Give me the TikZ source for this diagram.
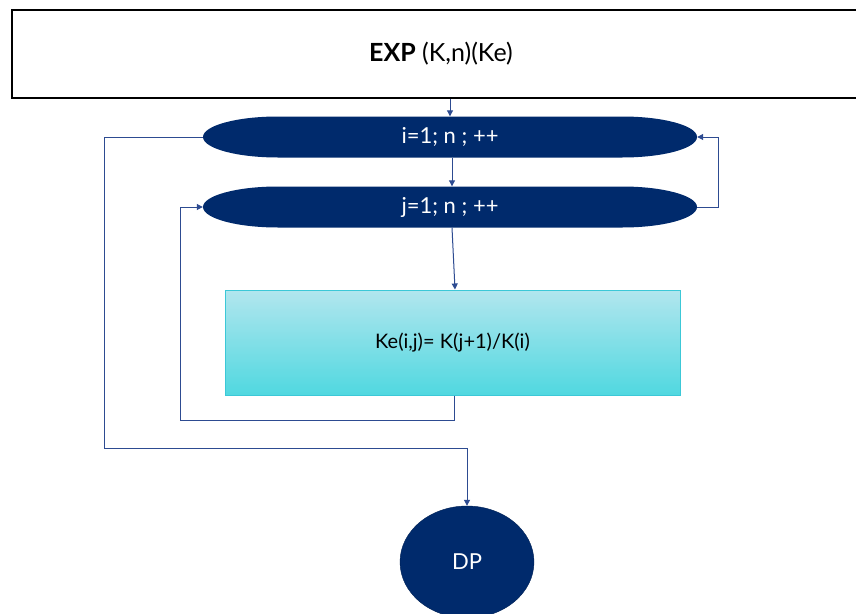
\documentclass[tikz,border=0pt]{standalone}
\usepackage{fontspec}
\setmainfont{Lato}
\usetikzlibrary{shapes.geometric,arrows.meta}
\definecolor{navy}{RGB}{0,42,108}
\definecolor{lineblue}{RGB}{45,75,145}
\definecolor{cyantop}{RGB}{178,230,238}
\definecolor{cyanbot}{RGB}{80,216,224}
\definecolor{cyanedge}{RGB}{60,200,215}
\tikzset{
  loopell/.style={rectangle, minimum width=494pt, minimum height=41pt, inner sep=0pt, text=white, font=\fontsize{22}{24}\selectfont,
    path picture={\fill[navy] ([xshift=75pt]path picture bounding box.north west) -- ([xshift=-75pt]path picture bounding box.north east) arc[start angle=90, end angle=-90, x radius=75pt, y radius=20.5pt] -- ([xshift=75pt]path picture bounding box.south west) arc[start angle=270, end angle=90, x radius=75pt, y radius=20.5pt] -- cycle;}},
  conn/.style={draw=lineblue, line width=1pt},
  arr/.style={conn, -{Triangle[length=6pt,width=6pt]}},
}
\begin{document}
\begin{tikzpicture}[x=1pt,y=-1pt]
\useasboundingbox (0,0) rectangle (856,613);
\fill[white] (0,0) rectangle (856,613);
\node[draw=black, line width=1.6pt, fill=white, minimum width=858pt, minimum height=88pt, inner sep=0pt, font=\fontsize{25}{27}\selectfont] (top) at (441,54) {\textbf{EXP} (K,n)(Ke)};
\node[loopell] (e1) at (450,137) {i=1; n ; ++};
\node[loopell] (e2) at (450,207) {j=1; n ; ++};
\node[draw=cyanedge, line width=1pt, top color=cyantop, bottom color=cyanbot, minimum width=455pt, minimum height=105pt, inner sep=0pt, font=\fontsize{20}{24}\selectfont] (box) at (452.5,342.5) {Ke(i,j)= K(j+1)/K(i)};
\node[ellipse, fill=navy, draw=navy!80!black, minimum width=134pt, minimum height=112pt, inner sep=0pt, text=white, font=\fontsize{22}{24}\selectfont] (dp) at (467,562) {DP};
\draw[arr] (top.south -| e1.north) -- (e1.north);
\draw[arr] ([xshift=2pt]e1.south) -- ([xshift=2pt]e2.north);
\draw[arr] ([xshift=2pt]e2.south) -- ([xshift=2.5pt]box.north);
\coordinate (b1) at (454,420);
\coordinate (b2) at (180,420);
\draw[conn] ([xshift=1.5pt]box.south) -- (b1) -- (b2) -- (b2 |- e2.west);
\draw[arr] (b2 |- e2.west) -- (e2.west);
\coordinate (r1) at (718,207);
\draw[conn] (e2.east) -- (r1) -- (r1 |- e1.east);
\draw[arr] (r1 |- e1.east) -- (e1.east);
\coordinate (l1) at (104,137);
\coordinate (l2) at (104,448);
\draw[conn] (e1.west) -- (l1) -- (l2) -- (l2 -| dp.north);
\draw[arr] (l2 -| dp.north) -- (dp.north);
\end{tikzpicture}
\end{document}
